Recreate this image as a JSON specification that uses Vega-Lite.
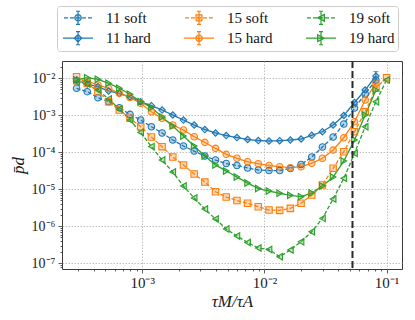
{
"$schema": "https://vega.github.io/schema/vega-lite/v6.json",
"width": 340, "height": 208, "autosize": "none",
"padding": {"left": 62, "top": 61, "right": 13, "bottom": 51},
"background": "white",
"config": {
  "view": {"stroke": "#3a3a3a", "strokeWidth": 1},
  "axis": {"domain": false, "labelFont": "Liberation Serif", "labelFontSize": 15, "labelColor": "#1a1a1a", "titleFont": "Liberation Serif", "titleFontSize": 17, "titleFontStyle": "italic", "titleFontWeight": "normal", "titleColor": "#1a1a1a", "tickColor": "#333", "tickWidth": 0.8, "gridColor": "#b0b0b0", "gridDash": [1.5, 1.5], "gridWidth": 0.8, "labelOverlap": false, "labelFlush": false}
},
"layer": [
{
"data": {"values": [
{"t":2.905e-4,"p":9.0e-3,"s":"11 hard"},{"t":3.553e-4,"p":7.02e-3,"s":"11 hard"},{"t":4.346e-4,"p":5.93e-3,"s":"11 hard"},{"t":5.316e-4,"p":4.54e-3,"s":"11 hard"},{"t":6.502e-4,"p":3.88e-3,"s":"11 hard"},{"t":7.953e-4,"p":3.13e-3,"s":"11 hard"},{"t":9.727e-4,"p":2.33e-3,"s":"11 hard"},{"t":1.190e-3,"p":1.82e-3,"s":"11 hard"},{"t":1.455e-3,"p":1.39e-3,"s":"11 hard"},{"t":1.780e-3,"p":1.02e-3,"s":"11 hard"},{"t":2.177e-3,"p":7.46e-4,"s":"11 hard"},{"t":2.663e-3,"p":5.47e-4,"s":"11 hard"},{"t":3.257e-3,"p":4.13e-4,"s":"11 hard"},{"t":3.984e-3,"p":3.33e-4,"s":"11 hard"},{"t":4.873e-3,"p":2.84e-4,"s":"11 hard"},{"t":5.960e-3,"p":2.51e-4,"s":"11 hard"},{"t":7.290e-3,"p":2.22e-4,"s":"11 hard"},{"t":8.917e-3,"p":2.08e-4,"s":"11 hard"},{"t":1.091e-2,"p":2.02e-4,"s":"11 hard"},{"t":1.334e-2,"p":2.06e-4,"s":"11 hard"},{"t":1.632e-2,"p":2.15e-4,"s":"11 hard"},{"t":1.996e-2,"p":2.29e-4,"s":"11 hard"},{"t":2.441e-2,"p":2.88e-4,"s":"11 hard"},{"t":2.986e-2,"p":3.61e-4,"s":"11 hard"},{"t":3.652e-2,"p":5.47e-4,"s":"11 hard"},{"t":4.467e-2,"p":9.89e-4,"s":"11 hard"},{"t":5.463e-2,"p":2.22e-3,"s":"11 hard"},{"t":6.683e-2,"p":4.83e-3,"s":"11 hard"},{"t":8.175e-2,"p":1.15e-2,"s":"11 hard"},
{"t":2.905e-4,"p":5.37e-3,"s":"11 soft"},{"t":3.553e-4,"p":4.35e-3,"s":"11 soft"},{"t":4.346e-4,"p":2.99e-3,"s":"11 soft"},{"t":5.316e-4,"p":2.33e-3,"s":"11 soft"},{"t":6.502e-4,"p":1.60e-3,"s":"11 soft"},{"t":7.953e-4,"p":1.06e-3,"s":"11 soft"},{"t":9.727e-4,"p":7.46e-4,"s":"11 soft"},{"t":1.190e-3,"p":4.92e-4,"s":"11 soft"},{"t":1.455e-3,"p":3.33e-4,"s":"11 soft"},{"t":1.780e-3,"p":2.15e-4,"s":"11 soft"},{"t":2.177e-3,"p":1.48e-4,"s":"11 soft"},{"t":2.663e-3,"p":1.08e-4,"s":"11 soft"},{"t":3.257e-3,"p":7.94e-5,"s":"11 soft"},{"t":3.984e-3,"p":6.19e-5,"s":"11 soft"},{"t":4.873e-3,"p":4.98e-5,"s":"11 soft"},{"t":5.960e-3,"p":4.40e-5,"s":"11 soft"},{"t":7.290e-3,"p":3.77e-5,"s":"11 soft"},{"t":8.917e-3,"p":3.33e-5,"s":"11 soft"},{"t":1.091e-2,"p":3.22e-5,"s":"11 soft"},{"t":1.334e-2,"p":3.22e-5,"s":"11 soft"},{"t":1.632e-2,"p":3.65e-5,"s":"11 soft"},{"t":1.996e-2,"p":4.68e-5,"s":"11 soft"},{"t":2.441e-2,"p":7.46e-5,"s":"11 soft"},{"t":2.986e-2,"p":1.39e-4,"s":"11 soft"},{"t":3.652e-2,"p":2.59e-4,"s":"11 soft"},{"t":4.467e-2,"p":5.82e-4,"s":"11 soft"},{"t":5.463e-2,"p":1.57e-3,"s":"11 soft"},{"t":6.683e-2,"p":3.77e-3,"s":"11 soft"},{"t":8.175e-2,"p":8.99e-3,"s":"11 soft"},
{"t":2.905e-4,"p":7.94e-3,"s":"15 hard"},{"t":3.553e-4,"p":8.45e-3,"s":"15 hard"},{"t":4.346e-4,"p":6.59e-3,"s":"15 hard"},{"t":5.316e-4,"p":5.37e-3,"s":"15 hard"},{"t":6.502e-4,"p":3.94e-3,"s":"15 hard"},{"t":7.953e-4,"p":3.03e-3,"s":"15 hard"},{"t":9.727e-4,"p":2.11e-3,"s":"15 hard"},{"t":1.190e-3,"p":1.25e-3,"s":"15 hard"},{"t":1.455e-3,"p":8.30e-4,"s":"15 hard"},{"t":1.780e-3,"p":5.47e-4,"s":"15 hard"},{"t":2.177e-3,"p":4.01e-4,"s":"15 hard"},{"t":2.663e-3,"p":2.64e-4,"s":"15 hard"},{"t":3.257e-3,"p":1.86e-4,"s":"15 hard"},{"t":3.984e-3,"p":1.28e-4,"s":"15 hard"},{"t":4.873e-3,"p":8.83e-5,"s":"15 hard"},{"t":5.960e-3,"p":6.89e-5,"s":"15 hard"},{"t":7.290e-3,"p":5.57e-5,"s":"15 hard"},{"t":8.917e-3,"p":4.92e-5,"s":"15 hard"},{"t":1.091e-2,"p":4.40e-5,"s":"15 hard"},{"t":1.334e-2,"p":4.08e-5,"s":"15 hard"},{"t":1.632e-2,"p":3.84e-5,"s":"15 hard"},{"t":1.996e-2,"p":4.08e-5,"s":"15 hard"},{"t":2.441e-2,"p":5.05e-5,"s":"15 hard"},{"t":2.986e-2,"p":6.89e-5,"s":"15 hard"},{"t":3.652e-2,"p":1.15e-4,"s":"15 hard"},{"t":4.467e-2,"p":2.48e-4,"s":"15 hard"},{"t":5.463e-2,"p":6.71e-4,"s":"15 hard"},{"t":6.683e-2,"p":2.59e-3,"s":"15 hard"},{"t":8.175e-2,"p":7.46e-3,"s":"15 hard"},
{"t":2.905e-4,"p":1.10e-2,"s":"15 soft"},{"t":3.553e-4,"p":7.33e-3,"s":"15 soft"},{"t":4.346e-4,"p":4.35e-3,"s":"15 soft"},{"t":5.316e-4,"p":2.33e-3,"s":"15 soft"},{"t":6.502e-4,"p":1.39e-3,"s":"15 soft"},{"t":7.953e-4,"p":8.30e-4,"s":"15 soft"},{"t":9.727e-4,"p":4.92e-4,"s":"15 soft"},{"t":1.190e-3,"p":2.59e-4,"s":"15 soft"},{"t":1.455e-3,"p":1.42e-4,"s":"15 soft"},{"t":1.780e-3,"p":7.46e-5,"s":"15 soft"},{"t":2.177e-3,"p":4.54e-5,"s":"15 soft"},{"t":2.663e-3,"p":2.59e-5,"s":"15 soft"},{"t":3.257e-3,"p":1.57e-5,"s":"15 soft"},{"t":3.984e-3,"p":8.61e-6,"s":"15 soft"},{"t":4.873e-3,"p":6.19e-6,"s":"15 soft"},{"t":5.960e-3,"p":4.98e-6,"s":"15 soft"},{"t":7.290e-3,"p":4.19e-6,"s":"15 soft"},{"t":8.917e-3,"p":3.39e-6,"s":"15 soft"},{"t":1.091e-2,"p":2.76e-6,"s":"15 soft"},{"t":1.334e-2,"p":2.70e-6,"s":"15 soft"},{"t":1.632e-2,"p":3.06e-6,"s":"15 soft"},{"t":1.996e-2,"p":4.19e-6,"s":"15 soft"},{"t":2.441e-2,"p":7.01e-6,"s":"15 soft"},{"t":2.986e-2,"p":1.31e-5,"s":"15 soft"},{"t":3.652e-2,"p":3.70e-5,"s":"15 soft"},{"t":4.467e-2,"p":1.04e-4,"s":"15 soft"},{"t":5.463e-2,"p":3.61e-4,"s":"15 soft"},{"t":6.683e-2,"p":1.25e-3,"s":"15 soft"},{"t":8.175e-2,"p":5.37e-3,"s":"15 soft"},{"t":1.0e-1,"p":1.04e-2,"s":"15 soft"},
{"t":2.905e-4,"p":8.99e-3,"s":"19 hard"},{"t":3.553e-4,"p":1.04e-2,"s":"19 hard"},{"t":4.346e-4,"p":9.40e-3,"s":"19 hard"},{"t":5.316e-4,"p":7.33e-3,"s":"19 hard"},{"t":6.502e-4,"p":5.37e-3,"s":"19 hard"},{"t":7.953e-4,"p":3.70e-3,"s":"19 hard"},{"t":9.727e-4,"p":2.33e-3,"s":"19 hard"},{"t":1.190e-3,"p":1.63e-3,"s":"19 hard"},{"t":1.455e-3,"p":9.00e-4,"s":"19 hard"},{"t":1.780e-3,"p":5.14e-4,"s":"19 hard"},{"t":2.177e-3,"p":2.76e-4,"s":"19 hard"},{"t":2.663e-3,"p":1.48e-4,"s":"19 hard"},{"t":3.257e-3,"p":7.94e-5,"s":"19 hard"},{"t":3.984e-3,"p":4.54e-5,"s":"19 hard"},{"t":4.873e-3,"p":3.13e-5,"s":"19 hard"},{"t":5.960e-3,"p":2.15e-5,"s":"19 hard"},{"t":7.290e-3,"p":1.48e-5,"s":"19 hard"},{"t":8.917e-3,"p":1.05e-5,"s":"19 hard"},{"t":1.091e-2,"p":8.99e-6,"s":"19 hard"},{"t":1.334e-2,"p":7.80e-6,"s":"19 hard"},{"t":1.632e-2,"p":6.89e-6,"s":"19 hard"},{"t":1.996e-2,"p":6.31e-6,"s":"19 hard"},{"t":2.441e-2,"p":7.94e-6,"s":"19 hard"},{"t":2.986e-2,"p":1.23e-5,"s":"19 hard"},{"t":3.652e-2,"p":2.15e-5,"s":"19 hard"},{"t":4.467e-2,"p":5.82e-5,"s":"19 hard"},{"t":5.463e-2,"p":2.15e-4,"s":"19 hard"},{"t":6.683e-2,"p":1.02e-3,"s":"19 hard"},{"t":8.175e-2,"p":4.83e-3,"s":"19 hard"},
{"t":2.905e-4,"p":7.94e-3,"s":"19 soft"},{"t":3.553e-4,"p":7.02e-3,"s":"19 soft"},{"t":4.346e-4,"p":4.83e-3,"s":"19 soft"},{"t":5.316e-4,"p":2.76e-3,"s":"19 soft"},{"t":6.502e-4,"p":1.48e-3,"s":"19 soft"},{"t":7.953e-4,"p":7.46e-4,"s":"19 soft"},{"t":9.727e-4,"p":3.43e-4,"s":"19 soft"},{"t":1.190e-3,"p":1.43e-4,"s":"19 soft"},{"t":1.455e-3,"p":6.19e-5,"s":"19 soft"},{"t":1.780e-3,"p":2.94e-5,"s":"19 soft"},{"t":2.177e-3,"p":1.23e-5,"s":"19 soft"},{"t":2.663e-3,"p":5.82e-6,"s":"19 soft"},{"t":3.257e-3,"p":2.94e-6,"s":"19 soft"},{"t":3.984e-3,"p":1.57e-6,"s":"19 soft"},{"t":4.873e-3,"p":8.45e-7,"s":"19 soft"},{"t":5.960e-3,"p":5.47e-7,"s":"19 soft"},{"t":7.290e-3,"p":3.65e-7,"s":"19 soft"},{"t":8.917e-3,"p":2.59e-7,"s":"19 soft"},{"t":1.091e-2,"p":2.36e-7,"s":"19 soft"},{"t":1.334e-2,"p":1.51e-7,"s":"19 soft"},{"t":1.632e-2,"p":2.29e-7,"s":"19 soft"},{"t":1.996e-2,"p":3.84e-7,"s":"19 soft"},{"t":2.441e-2,"p":7.14e-7,"s":"19 soft"},{"t":2.986e-2,"p":1.64e-6,"s":"19 soft"},{"t":3.652e-2,"p":5.47e-6,"s":"19 soft"},{"t":4.467e-2,"p":1.98e-5,"s":"19 soft"},{"t":5.463e-2,"p":9.40e-5,"s":"19 soft"},{"t":6.683e-2,"p":4.92e-4,"s":"19 soft"},{"t":8.175e-2,"p":2.33e-3,"s":"19 soft"},{"t":1.0e-1,"p":8.99e-3,"s":"19 soft"}
]},
"encoding": {
  "x": {"field": "t", "type": "quantitative", "title": "τM/τA",
    "scale": {"type": "log", "domain": [0.0002208, 0.1337], "nice": false},
    "axis": {"values": [3e-4,4e-4,5e-4,6e-4,7e-4,8e-4,9e-4,1e-3,2e-3,3e-3,4e-3,5e-3,6e-3,7e-3,8e-3,9e-3,1e-2,2e-2,3e-2,4e-2,5e-2,6e-2,7e-2,8e-2,9e-2,1e-1],
      "labelExpr": "abs(log(datum.value)/LN10-round(log(datum.value)/LN10))<0.01 ? ['10⁰','10⁻¹','10⁻²','10⁻³','10⁻⁴','10⁻⁵','10⁻⁶','10⁻⁷'][-round(log(datum.value)/LN10)] : ''",
      "tickSize": {"condition": {"test": "abs(log(datum.value)/LN10-round(log(datum.value)/LN10))<0.01", "value": 4}, "value": 2},
      "gridOpacity": {"condition": {"test": "abs(log(datum.value)/LN10-round(log(datum.value)/LN10))<0.01", "value": 1}, "value": 0},
      "labelPadding": 2, "titlePadding": 3}},
  "y": {"field": "p", "type": "quantitative", "title": "p̄d",
    "scale": {"type": "log", "domain": [7.02e-8, 0.02938], "nice": false},
    "axis": {"values": [8e-8,9e-8,1e-7,2e-7,3e-7,4e-7,5e-7,6e-7,7e-7,8e-7,9e-7,1e-6,2e-6,3e-6,4e-6,5e-6,6e-6,7e-6,8e-6,9e-6,1e-5,2e-5,3e-5,4e-5,5e-5,6e-5,7e-5,8e-5,9e-5,1e-4,2e-4,3e-4,4e-4,5e-4,6e-4,7e-4,8e-4,9e-4,1e-3,2e-3,3e-3,4e-3,5e-3,6e-3,7e-3,8e-3,9e-3,1e-2,2e-2],
      "labelExpr": "abs(log(datum.value)/LN10-round(log(datum.value)/LN10))<0.01 ? ['10⁰','10⁻¹','10⁻²','10⁻³','10⁻⁴','10⁻⁵','10⁻⁶','10⁻⁷'][-round(log(datum.value)/LN10)] : ''",
      "labelFontSize": 14,
      "tickSize": {"condition": {"test": "abs(log(datum.value)/LN10-round(log(datum.value)/LN10))<0.01", "value": 4}, "value": 2},
      "gridOpacity": {"condition": {"test": "abs(log(datum.value)/LN10-round(log(datum.value)/LN10))<0.01", "value": 1}, "value": 0},
      "labelPadding": 3, "titlePadding": 4}},
  "color": {"field": "s", "type": "nominal",
    "scale": {"domain": ["11 soft","15 soft","19 soft","11 hard","15 hard","19 hard"], "range": ["#1f77b4","#ff7f0e","#2ca02c","#1f77b4","#ff7f0e","#2ca02c"]},
    "legend": {"orient": "none", "legendX": -5, "legendY": -55, "direction": "horizontal", "columns": 3, "title": null,
      "symbolSize": 225, "symbolStrokeWidth": 1.2, "labelOffset": 29, "columnPadding": 30, "rowPadding": 1.7, "padding": 3,
      "strokeColor": "#cccccc", "fillColor": "white", "cornerRadius": 3,
      "labelFont": "Liberation Serif", "labelFontSize": 15, "labelColor": "#111", "labelBaseline": "middle",
      "encode": {"symbols": {"update": {
        "shape": {"signal": "datum.value==='11 soft' ? 'M-0.6,0H-0.07M0.2,0H0.73M1,0H1.53M1.8,0H2.33M2.6,0H3.13M1.27,-0.87V0.87M1,-0.87H1.54M1,0.87H1.54M1.7,0L1.642,0.215L1.485,0.372L1.27,0.43L1.055,0.372L0.898,0.215L0.84,0L0.898,-0.215L1.055,-0.372L1.27,-0.43L1.485,-0.372L1.642,-0.215Z' : datum.value==='11 hard' ? 'M-0.73,0H3.27M1.27,-0.87V0.87M1,-0.87H1.54M1,0.87H1.54M1.27,-0.5L1.77,0L1.27,0.5L0.77,0Z' : datum.value==='15 soft' ? 'M-0.6,0H-0.07M0.2,0H0.73M1,0H1.53M1.8,0H2.33M2.6,0H3.13M1.27,-0.87V0.87M1,-0.87H1.54M1,0.87H1.54M0.87,-0.4H1.67V0.4H0.87Z' : datum.value==='15 hard' ? 'M-0.73,0H3.27M1.27,-0.87V0.87M1,-0.87H1.54M1,0.87H1.54M1.7,0L1.642,0.215L1.485,0.372L1.27,0.43L1.055,0.372L0.898,0.215L0.84,0L0.898,-0.215L1.055,-0.372L1.27,-0.43L1.485,-0.372L1.642,-0.215Z' : datum.value==='19 soft' ? 'M-0.6,0H-0.07M0.2,0H0.73M1,0H1.53M1.8,0H2.33M2.6,0H3.13M1.27,-0.87V0.87M1,-0.87H1.54M1,0.87H1.54M0.82,0L1.72,-0.45L1.72,0.45Z' : 'M-0.73,0H3.27M1.27,-0.87V0.87M1,-0.87H1.54M1,0.87H1.54M1.72,0L0.82,-0.45L0.82,0.45Z'"},
        "stroke": {"scale": "color", "field": "value"},
        "fill": {"scale": "color", "field": "value"},
        "fillOpacity": {"value": 0.3},
        "strokeOpacity": {"value": 1},
        "opacity": {"value": 1},
        "strokeWidth": {"value": 1.2},
        "strokeDash": {"value": [1, 0]}
      }}}}
  }
},
"layer": [
  {"mark": {"type": "line", "strokeWidth": 1.3},
   "encoding": {"strokeDash": {"field": "s", "type": "nominal", "legend": null,
     "scale": {"domain": ["11 hard","11 soft","15 hard","15 soft","19 hard","19 soft"], "range": [[1,0],[4,2],[1,0],[4,2],[1,0],[4,2]]}}}},
  {"mark": {"type": "point", "filled": true, "fillOpacity": 0.3, "size": 42},
   "encoding": {"shape": {"field": "s", "type": "nominal", "legend": null,
     "scale": {"domain": ["11 hard","11 soft","15 hard","15 soft","19 hard","19 soft"], "range": ["diamond","circle","circle","square","triangle-right","triangle-left"]}}}},
  {"mark": {"type": "point", "filled": false, "strokeWidth": 1.1, "size": 42, "opacity": 1},
   "encoding": {"shape": {"field": "s", "type": "nominal", "legend": null,
     "scale": {"domain": ["11 hard","11 soft","15 hard","15 soft","19 hard","19 soft"], "range": ["diamond","circle","circle","square","triangle-right","triangle-left"]}}}}
]
},
{
"data": {"values": [{"t": 8.175e-2, "lo": 9.0e-3, "hi": 1.52e-2}]},
"layer": [
  {"mark": {"type": "rule", "color": "#1f77b4", "strokeWidth": 1.1},
   "encoding": {"x": {"field": "t", "type": "quantitative", "title": "τM/τA"}, "y": {"field": "lo", "type": "quantitative", "title": "p̄d"}, "y2": {"field": "hi"}}},
  {"mark": {"type": "tick", "orient": "horizontal", "size": 5, "thickness": 1.1, "color": "#1f77b4"},
   "encoding": {"x": {"field": "t", "type": "quantitative", "title": "τM/τA"}, "y": {"field": "lo", "type": "quantitative", "title": "p̄d"}}},
  {"mark": {"type": "tick", "orient": "horizontal", "size": 5, "thickness": 1.1, "color": "#1f77b4"},
   "encoding": {"x": {"field": "t", "type": "quantitative", "title": "τM/τA"}, "y": {"field": "hi", "type": "quantitative", "title": "p̄d"}}}
]
},
{
"data": {"values": [{"t": 0.0526}]},
"mark": {"type": "rule", "strokeDash": [7, 3], "strokeWidth": 2, "color": "#2a2a2a"},
"encoding": {"x": {"field": "t", "type": "quantitative", "title": "τM/τA"}}
}
]
}
